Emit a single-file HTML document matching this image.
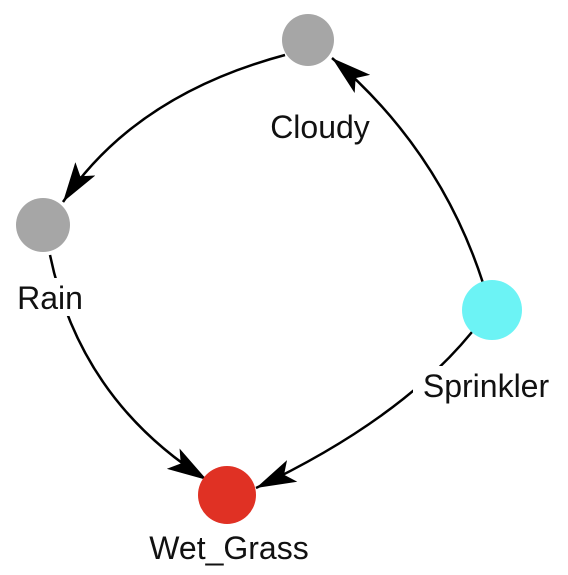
<!DOCTYPE html>
<html><head><meta charset="utf-8"><style>
html,body{margin:0;padding:0;background:#fff;}
svg{display:block;}
text{font-family:"Liberation Sans","DejaVu Sans",sans-serif;font-size:32px;fill:#111;}
</style></head><body>
<svg width="568" height="575" viewBox="0 0 568 575">
<defs>
<marker id="arr" viewBox="0 0 40 24" refX="40" refY="12" markerWidth="40" markerHeight="24" markerUnits="userSpaceOnUse" orient="auto">
<path d="M0,0 L40,12 L0,24 L9,12 Z" fill="#000"/>
</marker>
</defs>
<g>
<path d="M285,55 Q135,95 63,202" fill="none" stroke="#000" stroke-width="2.5" marker-end="url(#arr)"/>
<path d="M483,283 Q440,150 332,58" fill="none" stroke="#000" stroke-width="2.5" marker-end="url(#arr)"/>
<path d="M50,255 Q80,400 207,480" fill="none" stroke="#000" stroke-width="2.5" marker-end="url(#arr)"/>
<path d="M472,332 Q400,420 256,488" fill="none" stroke="#000" stroke-width="2.5" marker-end="url(#arr)"/>
</g>
<g>
<circle cx="308" cy="40" r="26" fill="#a6a6a6"/>
<circle cx="43" cy="225" r="27" fill="#a6a6a6"/>
<circle cx="492" cy="310" r="30" fill="#6cf3f5"/>
<circle cx="227" cy="495" r="29" fill="#e03124"/>
</g>
<g>
<rect x="262" y="106" width="116" height="38" fill="#fff"/>
<text x="320" y="138" text-anchor="middle">Cloudy</text>
<rect x="12" y="278" width="78" height="38" fill="#fff"/>
<text x="50" y="309" text-anchor="middle">Rain</text>
<rect x="413" y="366" width="146" height="40" fill="#fff"/>
<text x="486" y="397" text-anchor="middle">Sprinkler</text>
<text x="229" y="559" text-anchor="middle">Wet_Grass</text>
</g>
</svg>
</body></html>
